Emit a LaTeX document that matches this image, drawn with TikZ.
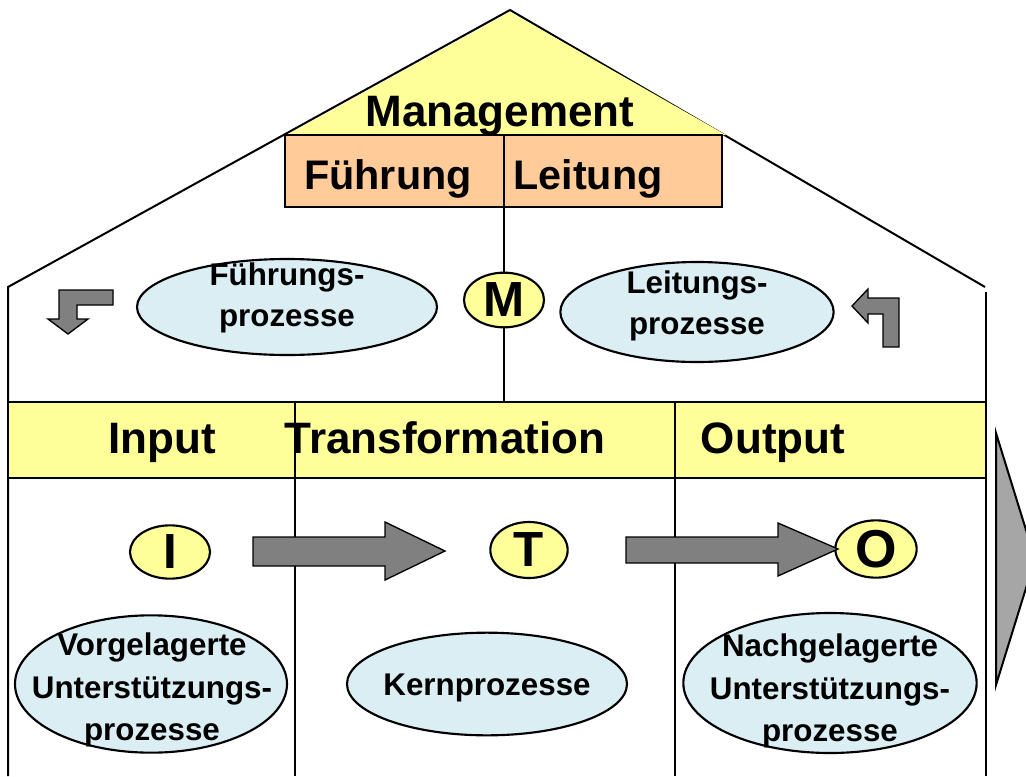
\documentclass[tikz,border=0pt]{standalone}
\usepackage{fontspec}
\setmainfont{Liberation Sans}
\usetikzlibrary{calc,shapes.geometric}
\definecolor{roofyellow}{HTML}{FFFF99}
\definecolor{boxorange}{HTML}{FFCC99}
\definecolor{procblue}{HTML}{DAEEF3}
\definecolor{arrowgray}{HTML}{808080}
\definecolor{biggray}{HTML}{A6A6A6}
\tikzset{
  wall/.style={line width=1.5pt},
  bigtxt/.style={anchor=base, inner sep=0pt, font=\fontsize{33}{36}\selectfont\bfseries},
  midtxt/.style={anchor=base, inner sep=0pt, font=\fontsize{31}{34}\selectfont\bfseries},
  proc/.style={draw, line width=1.6pt, fill=procblue, ellipse, inner sep=0pt},
  proctxt/.style={anchor=base, inner sep=0pt, font=\fontsize{23.5}{31.5}\selectfont\bfseries},
  letter/.style={draw, line width=1.6pt, fill=roofyellow, ellipse, inner sep=0pt,
    font=\fontsize{37}{40}\selectfont\bfseries},
  blockarrow/.style={draw, line width=1pt, fill=arrowgray},
}
\begin{document}
\begin{tikzpicture}[x=0.75pt, y=-0.75pt]
\useasboundingbox (0,0) rectangle (1026,776);
\begin{scope}
\clip (0,0) rectangle (1026,776);

% outer shape of the house
\draw[wall] (8,776) -- (8,287) -- (510,10) -- (985,287);
\draw[wall] (986,292) -- (986,776);

% management gable
\fill[roofyellow] (510,12) -- (287,135) -- (726,135) -- cycle;
\node[bigtxt] (mgmt) at (500,126) {Management};

% Führung / Leitung box
\draw[line width=1.5pt, fill=boxorange] (285,135) rectangle (722,207);
\coordinate (divtop) at (504,135);
\coordinate (divbot) at (504,207);
\draw[line width=1pt] (divtop) -- (divbot);
\node[midtxt] (fuehrung) at (388,189) {Führung};
\node[midtxt] (leitung) at (588,189) {Leitung};

% process band
\draw[line width=1.5pt, fill=roofyellow] (8,402) rectangle (986,478);
\coordinate (bandtop) at (504,402);
\draw[line width=1pt] (295,402) -- (295,776);
\draw[line width=1pt] (675,402) -- (675,776);
\node[bigtxt] (input) at (162,453) {Input};
\node[bigtxt] (transf) at (445,453) {Transformation};
\node[bigtxt] (output) at (773,453) {Output};

% management level
\node[letter, minimum width=60pt, minimum height=41pt] (M) at (504,300) {M};
\draw[line width=1pt] (divbot) -- (M.north);
\draw[line width=1pt] (M.south) -- (bandtop);

\node[proc, minimum width=225pt, minimum height=72pt] (fp) at (287,307) {};
\node[proctxt] at ($(fp.center)+(0,-22)$) {Führungs-};
\node[proctxt] at ($(fp.center)+(0,19)$) {prozesse};
\node[proc, minimum width=205pt, minimum height=75pt] (lp) at (697,312) {};
\node[proctxt] at ($(lp.center)+(0,-19)$) {Leitungs-};
\node[proctxt] at ($(lp.center)+(0,22)$) {prozesse};

% bent arrows beside the management processes
\draw[blockarrow] (113,290) -- (113,305) -- (77,305) -- (77,319) -- (88,319)
  -- (68,334) -- (48,319) -- (59,319) -- (59,290) -- cycle;
\draw[blockarrow] (899,298) -- (899,347) -- (883,347) -- (883,314) -- (868,314)
  -- (868,323) -- (852,306) -- (868,289) -- (868,298) -- cycle;

% input - transformation - output
\node[letter, minimum width=60pt, minimum height=40pt] (I) at (170,552) {I};
\node[letter, minimum width=58pt, minimum height=42pt] (T) at (529,550) {T};
\node[letter, minimum width=61pt, minimum height=43pt,
  font=\fontsize{40}{42}\selectfont\bfseries] (O) at (876,549) {O};

\draw[blockarrow] (253,537) -- (385,537) -- (385,522) -- (445,551) -- (385,580)
  -- (385,566) -- (253,566) -- cycle;
\draw[blockarrow] (626,537) -- (778,537) -- (778,523) -- (838,549) -- (778,576)
  -- (778,563) -- (626,563) -- cycle;

% overall output arrow
\draw[line width=1.5pt, fill=biggray] (996,433) -- (1035,559) -- (996,685) -- cycle;

% support and core processes
\node[proc, minimum width=204pt, minimum height=103pt] (vp) at (151,684) {};
\node[proctxt] at (152,655) {Vorgelagerte};
\node[proctxt] at (152,698) {Unterstützungs-};
\node[proctxt] at (152,740) {prozesse};
\node[proc, minimum width=210pt, minimum height=77pt] (kp) at (487,684) {};
\node[proctxt] at ($(kp.center)+(0,11)$) {Kernprozesse};
\node[proc, minimum width=220pt, minimum height=105pt] (np) at (830,683) {};
\node[proctxt] at (830,656) {Nachgelagerte};
\node[proctxt] at (830,699) {Unterstützungs-};
\node[proctxt] at (830,741) {prozesse};
\end{scope}
\end{tikzpicture}
\end{document}
